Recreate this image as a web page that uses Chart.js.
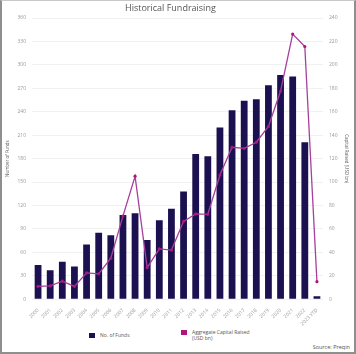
<!DOCTYPE html>
<html>
<head>
<meta charset="utf-8">
<script src="https://cdn.jsdelivr.net/npm/chart.js@4"></script>
<style>
  html, body { margin: 0; padding: 0; background: #fff; }
  #frame {
    position: relative;
    width: 356px; height: 354px;
    box-sizing: border-box;
    border: 2px solid #8f8f8f;
    border-top: 1px solid #c8c8c8;
    font-family: "Open Sans", sans-serif;
    overflow: hidden;
  }
  #wrap { position: absolute; left: 0; top: 0; width: 352px; height: 326px; }
  #title { position: absolute; left: 123px; top: 0px; font-size: 9px; color: #555; white-space: nowrap; }
  .legend { position: absolute; font-size: 5px; color: #555; line-height: 6px; }
  .legend i { position: absolute; left: 0; top: 1px; width: 6px; height: 5px; }
  .legend span { position: absolute; left: 11px; top: 0; white-space: nowrap; }
  #source { position: absolute; right: 4px; bottom: 1px; font-size: 5.5px; color: #555; }
</style>
</head>
<body>
<div id="frame">
  <div id="wrap"><canvas id="chart"></canvas></div>
  <div id="title">Historical Fundraising</div>
  <div class="legend" style="left:87px; top:331px;"><i style="background:#1c1150"></i><span>No. of Funds</span></div>
  <div class="legend" style="left:179px; top:328px;"><i style="background:#b0157d"></i><span>Aggregate Capital Raised<br>(USD bn)</span></div>
  <div id="source">Source: Preqin</div>
</div>
<script>
const years = ["2000", "2001", "2002", "2003", "2004", "2005", "2006", "2007", "2008", "2009",
  "2010", "2011", "2012", "2013", "2014", "2015", "2016", "2017", "2018", "2019",
  "2020", "2021", "2022", "2023 YTD"];
const funds = [44, 37, 48, 42, 70, 85, 82, 108, 110, 76, 101, 116, 138, 186, 183, 220,
  242, 254, 256, 274, 287, 285, 201, 4];
const capital = [11, 11.4, 15.4, 11, 22.5, 21.7, 35, 71, 105, 27, 43, 42, 66.5, 72.8, 72.5, 106,
  129.7, 128.8, 134, 147.4, 177.7, 226.3, 215.7, 15];

const tickFont = { size: 5, family: "'Open Sans', sans-serif" };
const axisTitleFont = { size: 4.5, family: "'Open Sans', sans-serif" };

new Chart(document.getElementById("chart"), {
  data: {
    labels: years,
    datasets: [
      {
        type: "line",
        label: "Aggregate Capital Raised (USD bn)",
        data: capital,
        yAxisID: "y1",
        borderColor: "#a63f9e",
        backgroundColor: "#a63f9e",
        borderWidth: 1.3,
        pointRadius: 1.6,
        pointBackgroundColor: "#b0157d",
        pointBorderWidth: 0,
        tension: 0,
        order: 0,
      },
      {
        type: "bar",
        label: "No. of Funds",
        data: funds,
        yAxisID: "y",
        backgroundColor: "#1c1150",
        barPercentage: 0.56,
        categoryPercentage: 1,
        order: 1,
      },
    ],
  },
  options: {
    responsive: true,
    maintainAspectRatio: false,
    animation: false,
    layout: { padding: { top: 17, left: 0, right: 0, bottom: 0 } },
    plugins: {
      legend: { display: false },
      tooltip: { enabled: false },
    },
    scales: {
      x: {
        grid: { display: false },
        border: { display: false },
        ticks: {
          color: "#999",
          font: tickFont,
          minRotation: 45,
          maxRotation: 45,
          padding: 0,
          autoSkip: false,
        },
        // rotated labels would otherwise push the plot away from the left axis
        afterFit: (s) => { s.paddingLeft = 0; s.paddingRight = 0; },
      },
      y: {
        position: "left",
        min: 0,
        max: 360,
        ticks: { stepSize: 30, color: "#999", font: tickFont, padding: 6 },
        grid: { color: "#f1f1f1", drawTicks: false },
        border: { display: false },
        title: {
          display: true,
          text: "Number of Funds",
          color: "#555",
          font: axisTitleFont,
          padding: { top: 3, bottom: 0 },
        },
        afterFit: (s) => { s.width = 30; },
      },
      y1: {
        position: "right",
        min: 0,
        max: 240,
        ticks: { stepSize: 20, color: "#999", font: tickFont, padding: 6 },
        grid: { display: false, drawTicks: false },
        border: { display: false },
        title: {
          display: true,
          text: "Capital Raised (USD bn)",
          color: "#555",
          font: axisTitleFont,
          padding: { top: 5, bottom: 0 },
        },
        afterFit: (s) => { s.width = 31; },
      },
    },
  },
});
</script>
</body>
</html>
